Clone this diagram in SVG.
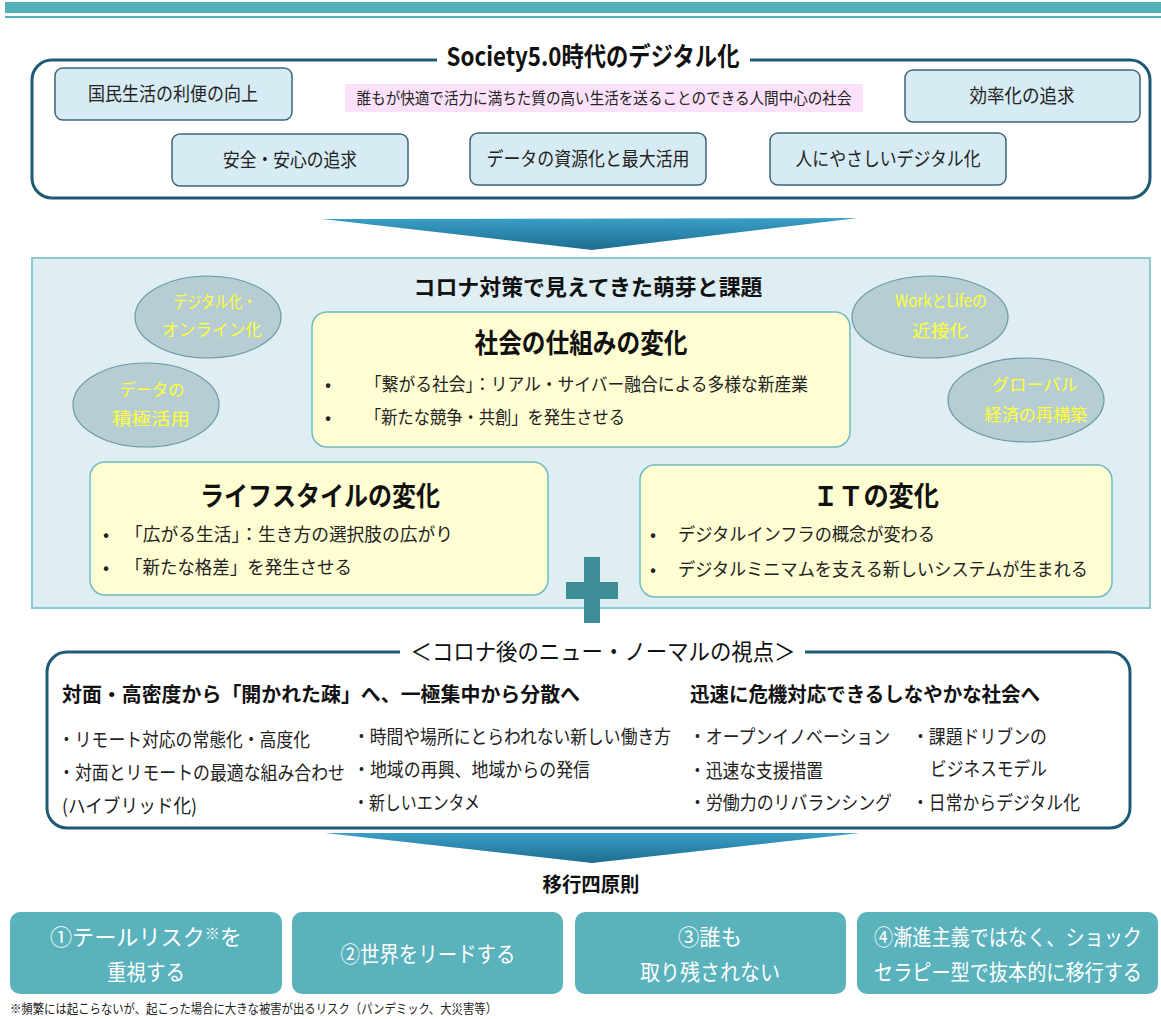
<svg xmlns="http://www.w3.org/2000/svg" width="1161" height="1019" viewBox="0 0 1161 1019">
<defs>
<linearGradient id="arr" x1="0" y1="0" x2="0" y2="1">
<stop offset="0" stop-color="#3a9fc6"/>
<stop offset="1" stop-color="#1d6d90"/>
</linearGradient>
<style>
text{font-family:"Noto Sans CJK JP","Noto Sans",sans-serif;}
.frame{fill:#ffffff;stroke:#1f5a74;stroke-width:3;}
.sbox{fill:#d6ebf3;stroke:#3d6676;stroke-width:1.5;}
.sbt{font-size:19px;fill:#222;text-anchor:middle;}
.ybox{fill:#fffdd2;stroke:#6fbcc4;stroke-width:1.5;}
.yt{font-size:27px;font-weight:bold;fill:#111;text-anchor:middle;}
.yb{font-size:18px;fill:#222;}
.ell{fill:#b6cdd4;stroke:#6b98a6;stroke-width:1.2;}
.et{font-size:17px;fill:#ffff33;text-anchor:middle;}
.nt{font-size:19px;fill:#222;}
.nh{font-size:20px;font-weight:bold;fill:#111;}
.pbox{fill:#59b2bc;}
.pt{font-size:22px;fill:#ffffff;text-anchor:middle;}
</style>
</defs>
<rect width="1161" height="1019" fill="#ffffff"/>
<!-- top band -->
<rect x="5" y="2" width="1156" height="11" fill="#52b0b9"/>
<rect x="5" y="16" width="1156" height="2" fill="#52b0b9"/>

<!-- Section 1 -->
<g id="society50">
<rect class="frame" x="32" y="60" width="1118" height="138" rx="20"/>
<rect x="437" y="52" width="313" height="14" fill="#ffffff"/>
<text x="593" y="66" font-size="26" font-weight="bold" fill="#111" text-anchor="middle" textLength="293" lengthAdjust="spacingAndGlyphs">Society5.0時代のデジタル化</text>
<rect x="345" y="84" width="518" height="28" fill="#fbe2fa"/>
<text x="604" y="104" font-size="16" fill="#222" text-anchor="middle" textLength="495" lengthAdjust="spacingAndGlyphs">誰もが快適で活力に満ちた質の高い生活を送ることのできる人間中心の社会</text>
</g>
<g id="n-kokumin"><rect class="sbox" x="55" y="68" width="237" height="52" rx="8"/><text class="sbt" x="173" y="101" textLength="170" lengthAdjust="spacingAndGlyphs">国民生活の利便の向上</text></g>
<g id="n-kouritsu"><rect class="sbox" x="905" y="70" width="235" height="52" rx="8"/><text class="sbt" x="1022" y="103" textLength="105" lengthAdjust="spacingAndGlyphs">効率化の追求</text></g>
<g id="n-anzen"><rect class="sbox" x="172" y="134" width="236" height="52" rx="8"/><text class="sbt" x="290" y="167" textLength="134" lengthAdjust="spacingAndGlyphs">安全・安心の追求</text></g>
<g id="n-data"><rect class="sbox" x="470" y="133" width="236" height="52" rx="8"/><text class="sbt" x="588" y="166" textLength="203" lengthAdjust="spacingAndGlyphs">データの資源化と最大活用</text></g>
<g id="n-hito"><rect class="sbox" x="770" y="133" width="236" height="52" rx="8"/><text class="sbt" x="888" y="166" textLength="185" lengthAdjust="spacingAndGlyphs">人にやさしいデジタル化</text></g>

<!-- connectors -->
<g id="connectors">
<polygon points="322,219 858,218 592,250" fill="url(#arr)"/>
<polygon points="325,833 860,833 592,863" fill="url(#arr)"/>
</g>

<!-- Section 2 -->
<g id="corona">
<rect x="32" y="258" width="1118" height="350" fill="#deeef3" stroke="#8ccbd3" stroke-width="2"/>
<text x="588" y="295" font-size="22" font-weight="bold" fill="#111" text-anchor="middle" textLength="349" lengthAdjust="spacingAndGlyphs">コロナ対策で見えてきた萌芽と課題</text>
</g>
<g id="e-digital"><ellipse class="ell" cx="208" cy="317" rx="73" ry="41"/><text class="et" x="215" y="308" textLength="83" lengthAdjust="spacingAndGlyphs">デジタル化・</text><text class="et" x="212" y="336" textLength="100" lengthAdjust="spacingAndGlyphs">オンライン化</text></g>
<g id="e-data"><ellipse class="ell" cx="146" cy="405" rx="73" ry="42"/><text class="et" x="152" y="396" textLength="65" lengthAdjust="spacingAndGlyphs">データの</text><text class="et" x="151" y="425" textLength="78" lengthAdjust="spacingAndGlyphs">積極活用</text></g>
<g id="e-work"><ellipse class="ell" cx="930" cy="317" rx="78" ry="41"/><text class="et" x="941" y="307" textLength="92" lengthAdjust="spacingAndGlyphs">WorkとLifeの</text><text class="et" x="940" y="337" textLength="56" lengthAdjust="spacingAndGlyphs">近接化</text></g>
<g id="e-global"><ellipse class="ell" cx="1026" cy="400" rx="78" ry="42"/><text class="et" x="1035" y="391" textLength="86" lengthAdjust="spacingAndGlyphs">グローバル</text><text class="et" x="1036" y="421" textLength="103" lengthAdjust="spacingAndGlyphs">経済の再構築</text></g>

<g id="n-shakai">
<rect class="ybox" x="312" y="312" width="538" height="135" rx="15"/>
<text class="yt" x="581" y="353" textLength="213" lengthAdjust="spacingAndGlyphs">社会の仕組みの変化</text>
<text class="yb" x="325" y="391">•</text><text class="yb" x="365" y="391" textLength="443" lengthAdjust="spacingAndGlyphs">「繋がる社会」：リアル・サイバー融合による多様な新産業</text>
<text class="yb" x="325" y="424">•</text><text class="yb" x="365" y="424" textLength="260" lengthAdjust="spacingAndGlyphs">「新たな競争・共創」を発生させる</text>
</g>
<g id="n-life">
<rect class="ybox" x="90" y="462" width="458" height="133" rx="15"/>
<text class="yt" x="320" y="506" textLength="240" lengthAdjust="spacingAndGlyphs">ライフスタイルの変化</text>
<text class="yb" x="103" y="541">•</text><text class="yb" x="125" y="541" textLength="328" lengthAdjust="spacingAndGlyphs">「広がる生活」：生き方の選択肢の広がり</text>
<text class="yb" x="103" y="574">•</text><text class="yb" x="125" y="574" textLength="227" lengthAdjust="spacingAndGlyphs">「新たな格差」を発生させる</text>
</g>
<g id="n-it">
<rect class="ybox" x="640" y="465" width="472" height="132" rx="15"/>
<text class="yt" x="876" y="506" textLength="126" lengthAdjust="spacingAndGlyphs">ＩＴの変化</text>
<text class="yb" x="650" y="541">•</text><text class="yb" x="678" y="541" textLength="257" lengthAdjust="spacingAndGlyphs">デジタルインフラの概念が変わる</text>
<text class="yb" x="650" y="576">•</text><text class="yb" x="678" y="576" textLength="410" lengthAdjust="spacingAndGlyphs">デジタルミニマムを支える新しいシステムが生まれる</text>
</g>
<g id="plus">
<rect x="584" y="557" width="16" height="66" fill="#3d8d97"/>
<rect x="566" y="582" width="52" height="17" fill="#3d8d97"/>
</g>

<!-- Section 3 -->
<g id="newnormal">
<rect class="frame" x="47" y="652" width="1083" height="176" rx="20"/>
<rect x="400" y="640" width="405" height="20" fill="#ffffff"/>
<text x="603" y="660" font-size="23" fill="#111" text-anchor="middle" textLength="385" lengthAdjust="spacingAndGlyphs">＜コロナ後のニュー・ノーマルの視点＞</text>
<text class="nh" x="62" y="702" textLength="518" lengthAdjust="spacingAndGlyphs">対面・高密度から「開かれた疎」へ、一極集中から分散へ</text>
<text class="nh" x="690" y="702" textLength="350" lengthAdjust="spacingAndGlyphs">迅速に危機対応できるしなやかな社会へ</text>
<text class="nt" x="58" y="747" textLength="252" lengthAdjust="spacingAndGlyphs">・リモート対応の常態化・高度化</text>
<text class="nt" x="58" y="780" textLength="287" lengthAdjust="spacingAndGlyphs">・対面とリモートの最適な組み合わせ</text>
<text class="nt" x="62" y="813" textLength="135" lengthAdjust="spacingAndGlyphs">(ハイブリッド化)</text>
<text class="nt" x="353" y="744" font-size="17" textLength="318" lengthAdjust="spacingAndGlyphs">・時間や場所にとらわれない新しい働き方</text>
<text class="nt" x="353" y="777" textLength="237" lengthAdjust="spacingAndGlyphs">・地域の再興、地域からの発信</text>
<text class="nt" x="353" y="810" textLength="127" lengthAdjust="spacingAndGlyphs">・新しいエンタメ</text>
<text class="nt" x="689" y="744" textLength="201" lengthAdjust="spacingAndGlyphs">・オープンイノベーション</text>
<text class="nt" x="689" y="778" textLength="134" lengthAdjust="spacingAndGlyphs">・迅速な支援措置</text>
<text class="nt" x="689" y="810" textLength="203" lengthAdjust="spacingAndGlyphs">・労働力のリバランシング</text>
<text class="nt" x="912" y="744" textLength="135" lengthAdjust="spacingAndGlyphs">・課題ドリブンの</text>
<text class="nt" x="930" y="776" textLength="117" lengthAdjust="spacingAndGlyphs">ビジネスモデル</text>
<text class="nt" x="912" y="810" textLength="168" lengthAdjust="spacingAndGlyphs">・日常からデジタル化</text>
</g>

<!-- Section 4 -->
<text x="591" y="892" font-size="20" font-weight="bold" fill="#111" text-anchor="middle" textLength="97" lengthAdjust="spacingAndGlyphs">移行四原則</text>
<g id="p1"><rect class="pbox" x="10" y="912" width="272" height="82" rx="10"/><text class="pt" x="146" y="945" textLength="192" lengthAdjust="spacingAndGlyphs">①テールリスク<tspan font-size="15" dy="-6">※</tspan><tspan dy="6">を</tspan></text><text class="pt" x="146" y="980" textLength="78" lengthAdjust="spacingAndGlyphs">重視する</text></g>
<g id="p2"><rect class="pbox" x="292" y="912" width="271" height="82" rx="10"/><text class="pt" x="428" y="962" textLength="175" lengthAdjust="spacingAndGlyphs">②世界をリードする</text></g>
<g id="p3"><rect class="pbox" x="575" y="912" width="271" height="82" rx="10"/><text class="pt" x="710" y="945" textLength="64" lengthAdjust="spacingAndGlyphs">③誰も</text><text class="pt" x="710" y="980" textLength="140" lengthAdjust="spacingAndGlyphs">取り残されない</text></g>
<g id="p4"><rect class="pbox" x="857" y="912" width="301" height="82" rx="10"/><text class="pt" x="1008" y="945" font-size="19.5" textLength="268" lengthAdjust="spacingAndGlyphs">④漸進主義ではなく、ショック</text><text class="pt" x="1008" y="980" font-size="19.5" textLength="268" lengthAdjust="spacingAndGlyphs">セラピー型で抜本的に移行する</text></g>
<text x="10" y="1013" font-size="13" fill="#222" textLength="487" lengthAdjust="spacingAndGlyphs">※頻繁には起こらないが、起こった場合に大きな被害が出るリスク（パンデミック、大災害等）</text>
</svg>
